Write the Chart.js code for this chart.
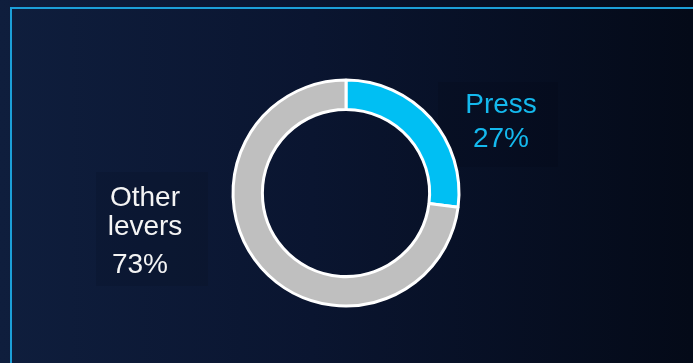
<!DOCTYPE html>
<html>
<head>
<meta charset="utf-8">
<script src="https://cdn.jsdelivr.net/npm/chart.js@4/dist/chart.umd.min.js"></script>
<style>
  html, body { margin: 0; padding: 0; }
  body {
    width: 693px; height: 363px; overflow: hidden; position: relative;
    background: linear-gradient(to right, #0f1e3d 0%, #0a1530 45%, #040a18 100%);
  }
  .frame {
    position: absolute; left: 10px; top: 7px; right: -10px; bottom: -10px;
    border-left: 2px solid #1c9fd8; border-top: 2px solid #1c9fd8;
  }
  .chart-container { position: absolute; left: 0; top: 0; width: 693px; height: 363px; }
</style>
</head>
<body>
<div class="frame"></div>
<div class="chart-container">
  <canvas id="share" width="693" height="363"></canvas>
</div>
<script>
const labels = ['Press', 'Other levers'];
const values = [27, 73];
const colors = ['#00BFF3', '#BFBFBF'];

// fonds très légers derrière les étiquettes
const labelBoxes = {
  id: 'labelBoxes',
  beforeDraw(chart) {
    const ctx = chart.ctx;
    ctx.save();
    ctx.fillStyle = 'rgba(0, 0, 0, 0.08)';
    ctx.fillRect(438, 82, 120, 45);
    ctx.fillRect(438, 127, 120, 40);
    ctx.fillRect(96, 172, 112, 78);
    ctx.fillRect(96, 250, 112, 36);
    ctx.restore();
  }
};

// texte des étiquettes, dessiné à côté de l'anneau
const labelText = {
  id: 'labelText',
  afterDraw(chart) {
    const ctx = chart.ctx;
    ctx.save();
    ctx.font = '28px "Liberation Sans", Arial, sans-serif';
    ctx.textAlign = 'center';
    ctx.textBaseline = 'alphabetic';

    ctx.fillStyle = '#14B9EE';
    ctx.fillText(labels[0], 501, 113);
    ctx.fillText(values[0] + '%', 501, 147);

    ctx.fillStyle = '#F4F4F4';
    const words = labels[1].split(' ');
    ctx.fillText(words[0], 145, 206);
    ctx.fillText(words[1], 145, 235);
    ctx.fillText(values[1] + '%', 140, 273);
    ctx.restore();
  }
};

const ctx = document.getElementById('share').getContext('2d');
new Chart(ctx, {
  type: 'doughnut',
  data: {
    labels: labels,
    datasets: [{
      data: values,
      backgroundColor: colors,
      borderColor: '#FFFFFF',
      borderWidth: 3,
      hoverOffset: 0
    }]
  },
  options: {
    responsive: false,
    animation: false,
    radius: 113,
    cutout: '74%',
    layout: { padding: { left: 0, right: 1, top: 23, bottom: 0 } },
    plugins: {
      legend: { display: false },
      tooltip: { enabled: false }
    }
  },
  plugins: [labelBoxes, labelText]
});
</script>
</body>
</html>
